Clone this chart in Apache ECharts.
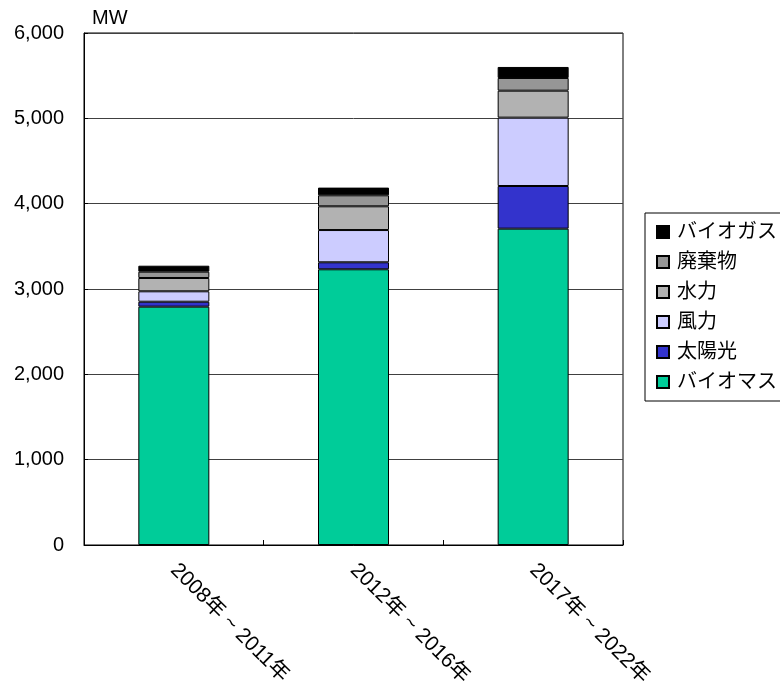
<!DOCTYPE html>
<html>
<head>
<meta charset="utf-8">
<script src="https://cdn.jsdelivr.net/npm/echarts@6/dist/echarts.min.js"></script>
<style>
  html, body { margin: 0; padding: 0; background: #fff; }
  #chart { width: 780px; height: 684px; }
</style>
</head>
<body>
<div id="chart"></div>
<script>
// categories and stacked values (MW), bottom to top
const periods = ['2008年 ~ 2011年', '2012年 ~ 2016年', '2017年 ~ 2022年']
const seriesNames = ['バイオマス', '太陽光', '風力', '水力', '廃棄物', 'バイオガス']
const seriesColors = ['#00cc99', '#3333cc', '#ccccff', '#b2b2b2', '#969696', '#000000']
const biomass = [2793, 3231, 3707]
const solar = [58, 82, 500]
const wind = [122, 378, 801]
const hydro = [156, 278, 316]
const waste = [74, 129, 149]
const biogas = [70, 90, 129]
const yTicks = [0, 1000, 2000, 3000, 4000, 5000, 6000]

const values = [biomass, solar, wind, hydro, waste, biogas]
const font = "'Liberation Sans', 'Noto Sans CJK JP', sans-serif"

const chart = echarts.init(document.getElementById('chart'))

chart.setOption({
  animation: false,
  textStyle: { fontFamily: font, color: '#000' },
  grid: {
    left: 84,
    top: 33,
    width: 539,
    height: 512,
    show: true,
    borderColor: '#000',
    borderWidth: 1,
    containLabel: false,
    outerBoundsMode: 'none'
  },
  legend: {
    orient: 'vertical',
    left: 645,
    top: 213,
    padding: [8, 60, 8, 11],
    itemGap: 8,
    itemWidth: 12,
    itemHeight: 12,
    borderColor: '#000',
    borderWidth: 1,
    icon: 'rect',
    data: seriesNames.slice().reverse(),
    textStyle: {
      fontFamily: font,
      fontSize: 20,
      lineHeight: 22,
      color: '#000',
      padding: [0, 0, 0, 3]
    }
  },
  xAxis: {
    type: 'category',
    data: periods,
    axisLine: { lineStyle: { color: '#000' } },
    axisTick: { show: true, inside: true, length: 5, lineStyle: { color: '#000' } },
    axisLabel: {
      rotate: -45,
      margin: 22,
      fontSize: 21,
      color: '#000',
      fontFamily: font
    }
  },
  yAxis: {
    type: 'value',
    min: yTicks[0],
    max: yTicks[yTicks.length - 1],
    interval: 1000,
    name: 'MW',
    nameLocation: 'end',
    nameGap: 5,
    nameTextStyle: { fontSize: 20, color: '#000', align: 'left', padding: [0, 0, 0, 8], fontFamily: font },
    axisLine: { show: true, lineStyle: { color: '#000' } },
    axisTick: { show: true, inside: true, length: 4, lineStyle: { color: '#000' } },
    axisLabel: {
      fontSize: 20,
      margin: 20,
      color: '#000',
      fontFamily: font,
      formatter: v => v.toLocaleString('en-US')
    },
    splitLine: { show: true, lineStyle: { color: '#404040', width: 1 } }
  },
  series: seriesNames.map((name, i) => ({
    name: name,
    type: 'bar',
    stack: 'total',
    barWidth: 71,
    data: values[i],
    itemStyle: {
      color: seriesColors[i],
      borderColor: '#000',
      borderWidth: 1
    }
  }))
})
</script>
</body>
</html>
